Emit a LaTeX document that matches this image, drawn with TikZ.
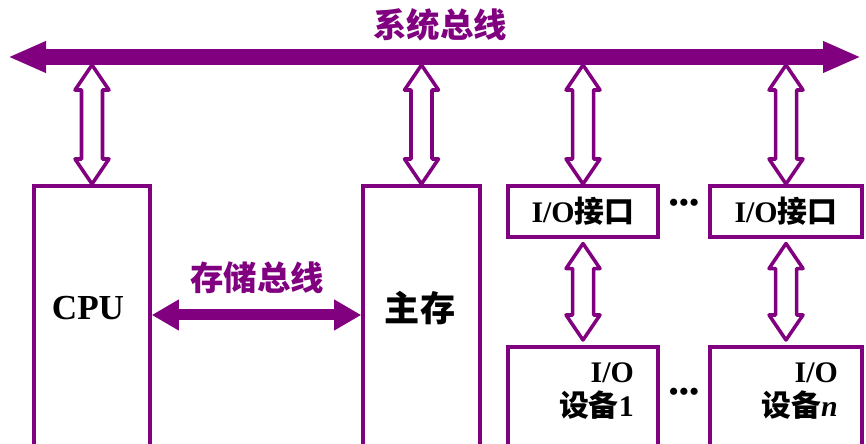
\documentclass[tikz,border=0pt]{standalone}
\usepackage{fontspec}
\setmainfont{Liberation Serif}
\newfontfamily\cjk{Noto Sans CJK SC}
\usetikzlibrary{arrows.meta,positioning,calc}
\definecolor{buspurple}{RGB}{128,0,128}
% hollow double arrow between two points straight above each other
\newcommand{\hollowarrow}[2]{%
  \draw[hollow] (#1) -- ($(#1)+(-0.34,-0.5)$) -- ($(#1)+(-0.21,-0.5)$)
    -- ($(#2)+(-0.21,0.5)$) -- ($(#2)+(-0.34,0.5)$) -- (#2)
    -- ($(#2)+(0.34,0.5)$) -- ($(#2)+(0.21,0.5)$)
    -- ($(#1)+(0.21,-0.5)$) -- ($(#1)+(0.34,-0.5)$) -- cycle;}
\newcommand{\threedots}{•\kern0.6pt•\kern0.6pt•}

\begin{document}
\begin{tikzpicture}[>=Stealth,
 box/.style={draw=buspurple,line width=2pt,inner sep=0pt,anchor=north},
 hollow/.style={draw=buspurple,line width=2pt,fill=white,line join=round},
 bus/.style={buspurple,line width=0.32cm,{Triangle[length=0.76cm,width=0.58cm]}-{Triangle[length=0.76cm,width=0.58cm]}},
 membus/.style={buspurple,line width=0.22cm,{Triangle[length=0.54cm,width=0.58cm]}-{Triangle[length=0.54cm,width=0.58cm]}},
 buslbl/.style={text=buspurple,font=\cjk\bfseries\fontsize{19}{19}\selectfont},
 unit/.style={font=\bfseries\fontsize{20}{20}\selectfont},
 io/.style={font=\bfseries\fontsize{17}{19}\selectfont},
 dots/.style={font=\bfseries\fontsize{15}{15}\selectfont,anchor=base,inner sep=0pt}]
\useasboundingbox (0,0) rectangle (17.32,8.86);
\clip (0,0) rectangle (17.32,8.86);

% system bus
\coordinate (busL) at (0.16,7.72);
\coordinate (busR) at (17.22,7.72);
\coordinate (busB) at (0,7.56);
\draw[bus] (busL) -- (busR);
\node[buslbl] (sysbus) at (8.8,8.36) {系统总线};

% CPU, main memory
\node[box,minimum width=2.32cm,minimum height=5.6cm] (cpu) at (1.84,5.18) {};
\node[box,minimum width=2.34cm,minimum height=5.6cm] (mem) at (8.43,5.18) {};
\node[unit] (cputxt) at (1.76,2.7) {CPU};
\node[unit] (memtxt) at (8.4,2.7) {\cjk 主存};

% memory bus
\coordinate (mb) at (5.13,2.56);
\draw[membus] (cpu.east |- mb) -- (mem.west |- mb);
\node[buslbl] (membuslbl) at (5.14,3.3) {存储总线};

% I/O interfaces and devices
\node[box,minimum width=3.0cm,minimum height=1.02cm,io] (if1) at (11.66,5.18) {I/O{\cjk 接口}};
\node[box,minimum width=3.04cm,minimum height=1.02cm,io] (ifn) at (15.72,5.18) {I/O{\cjk 接口}};
\node[box,minimum width=3.0cm,minimum height=3cm] (dev1) at (11.66,1.96) {};
\node[box,minimum width=3.04cm,minimum height=3cm] (devn) at (15.72,1.96) {};
\node[io,align=right,anchor=east] (dev1txt) at (12.8,1.04) {I/O\\{\cjk 设备}1};
\node[io,align=right,anchor=east] (devntxt) at (16.88,1.04) {I/O\\{\cjk 设备}\textit{n}};
\node[dots] (dotsA) at (13.68,4.62) {\threedots};
\node[dots] (dotsB) at (13.68,0.85) {\threedots};

% hollow arrows
\foreach \n in {cpu,mem,if1,ifn} {
  \coordinate (\n top) at (\n.north |- busB);
  \hollowarrow{\n top}{\n.north}
}
\foreach \a/\b in {if1/dev1,ifn/devn} {
  \coordinate (\a low) at ($(\a.south)+(0,-0.1)$);
  \coordinate (\b high) at ($(\b.north)+(0,0.1)$);
  \hollowarrow{\a low}{\b high}
}
\end{tikzpicture}
\end{document}
